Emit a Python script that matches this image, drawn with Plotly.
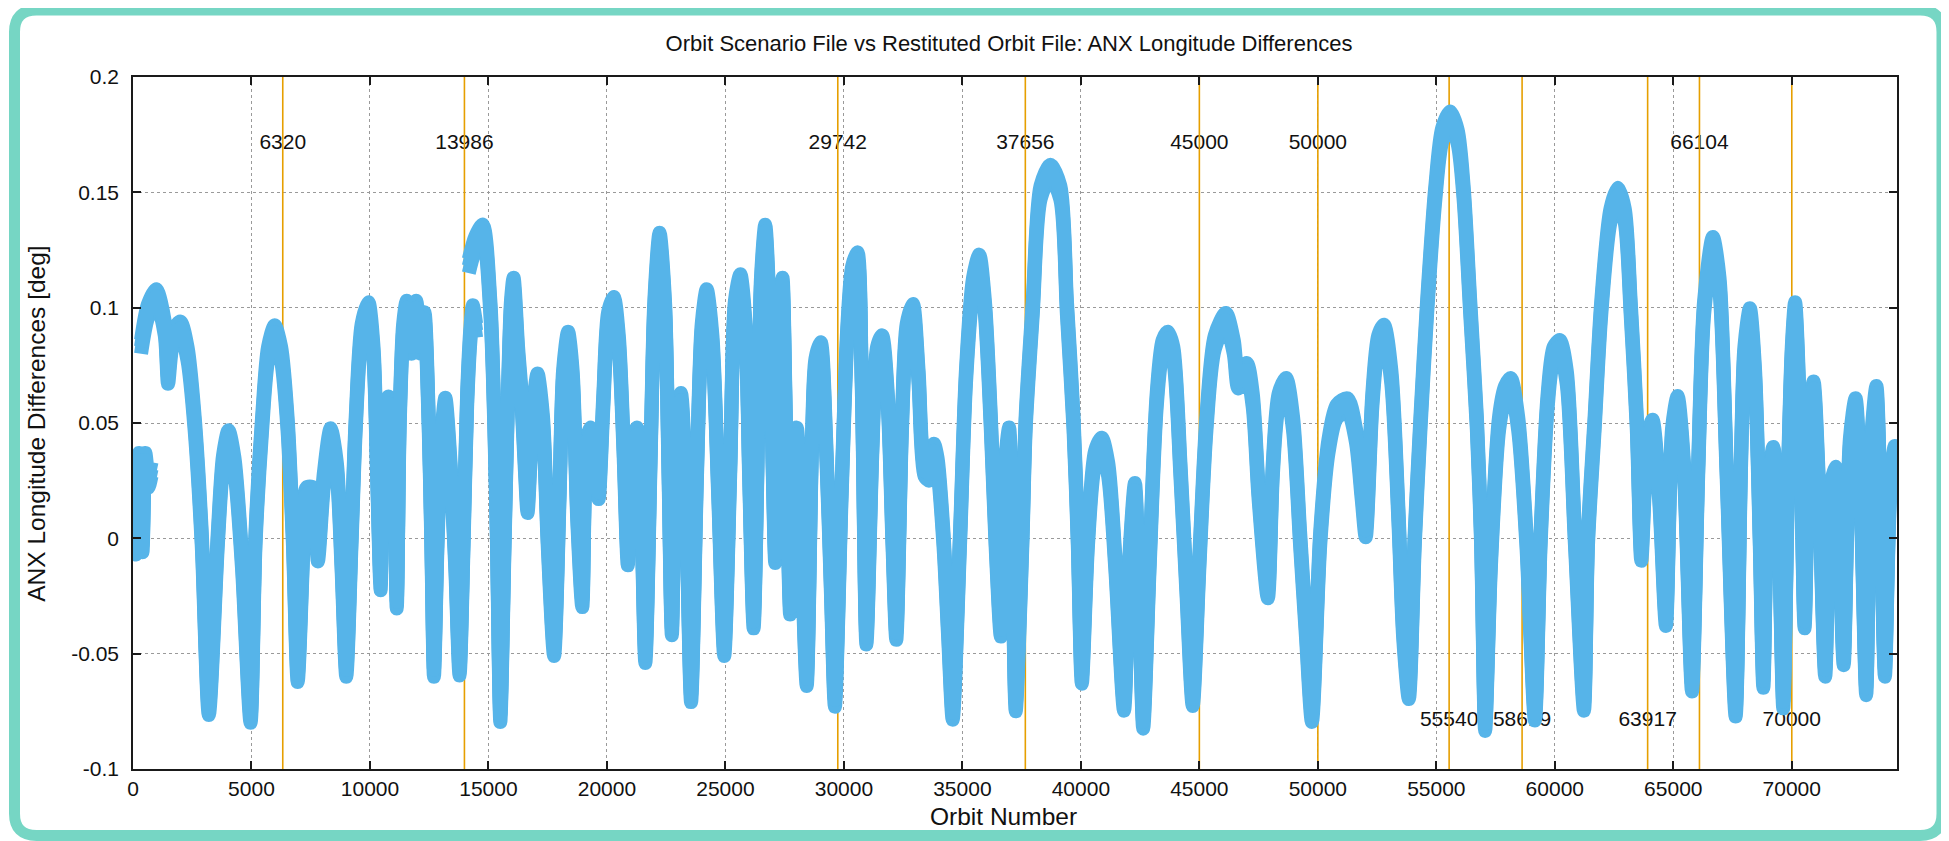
import plotly.graph_objects as go

# ---------------- data ----------------
ORBIT = [
    0, 130, 260, 400, 520, 650, 780, None,
    340, 630, 980, 1340, 1480, 1690, 2000, 2300, 2600, 2900, 3200, 3580, 3800, 4030, 4280, 4600, 4960,
    5170, 5450, 5700, 5980, 6250, 6520, 6750, 6950, 7200, 7320, 7600, 7800, 8050, 8340, 8600, 8800, 9000,
    9220, 9400, 9650, 9930, 10150, 10300, 10450, 10600, 10780, 10950, 11130, 11250, 11400, 11550, 11750,
    11950, 12150, 12300, 12480, 12590, 12700, 12850, 13000, 13180, 13400, 13600, 13780, 13950, 14100,
    14250, 14340, 14480, None,
    14170, 14450, 14760, 15080, 15250, 15360, 15500, 15680, 15820, 15950, 16060, 16250, 16400, 16550,
    16650, 16850, 17070, 17300, 17500, 17770, 18000, 18150, 18360, 18550, 18750, 18960, 19150, 19310,
    19500, 19650, 19850, 20050, 20290, 20500, 20700, 20880, 21050, 21270, 21400, 21620, 21850, 22000,
    22220, 22450, 22600, 22740, 22950, 23120, 23300, 23550, 23800, 24000, 24210, 24450, 24700, 24950,
    25200, 25400, 25630, 25850, 26000, 26190, 26400, 26500, 26680, 26850, 27000, 27100, 27250, 27410,
    27550, 27730, 27900, 28010, 28200, 28430, 28650, 28800, 29020, 29250, 29450, 29620, 29900, 30150,
    30350, 30570, 30750, 30950, 31200, 31400, 31610, 31850, 32050, 32210, 32450, 32650, 32910, 33150,
    33400, 33600, 33800, 33950, 34200, 34400, 34590, 34900, 35150, 35450, 35710, 35950, 36200, 36400,
    36620, 36800, 36970, 37100, 37250, 37530, 37670, 37970, 38300, 38715, 39130, 39410, 39690, 39870,
    40040, 40300, 40600, 40880, 41150, 41450, 41820, 42050, 42280, 42450, 42630, 42900, 43200, 43450,
    43670, 43900, 44200, 44450, 44720, 45000, 45300, 45650, 46120, 46450, 46650, 47000, 47250, 47500,
    47890, 48100, 48350, 48660, 48950, 49250, 49500, 49750, 50100, 50450, 50800, 51250, 51600, 51850,
    52020, 52300, 52550, 52790, 53100, 53400, 53600, 53840, 54090, 54330, 54610, 54960, 55250, 55590,
    55900, 56150, 56430, 56710, 56890, 57060, 57300, 57650, 57900, 58140, 58450, 58800, 59160, 59400,
    59700, 59950, 60210, 60500, 60850, 61230, 61400, 61680, 61960, 62350, 62660, 62950, 63200, 63460,
    63650, 63900, 64120, 64400, 64690, 64950, 65180, 65450, 65790, 66050, 66300, 66670, 66950, 67250,
    67630, 67850, 68000, 68230, 68450, 68650, 68800, 69000, 69220, 69450, 69640, 69850, 70000, 70140,
    70350, 70540, 70750, 70920, 71150, 71410, 71650, 71840, 72000, 72190, 72450, 72690, 72900, 73140,
    73350, 73570, 73750, 73930, 74150, 74350, 74500,
]

ANX_DIFF = [
    0.003, -0.004, 0.034, -0.003, 0.034, 0.025, 0.030, None,
    0.083, 0.0985, 0.105, 0.091, 0.070, 0.087, 0.091, 0.080, 0.050, 0.000, -0.0736, 0.000, 0.033, 0.0439,
    0.032, -0.010, -0.077,
    0.000, 0.050, 0.080, 0.0894, 0.080, 0.050, 0.000, -0.0593, 0.000, 0.019, 0.019, -0.007, 0.025, 0.0447,
    0.030, -0.010, -0.057,
    0.000, 0.050, 0.090, 0.0994, 0.080, 0.030, -0.0195, 0.050, 0.0585, 0.050, -0.0274, 0.050, 0.090, 0.100,
    0.083,
    0.100, 0.083, 0.095, 0.050, 0.000, -0.057, 0.000, 0.040, 0.058, 0.030, -0.010, -0.0565, 0.000, 0.060,
    0.090, 0.098, 0.090, None,
    0.118, 0.128, 0.133, 0.100, 0.050, 0.000, -0.0766, 0.000, 0.060, 0.100, 0.110, 0.080, 0.060, 0.030,
    0.014, 0.050, 0.0685, 0.050, 0.000, -0.048, 0.020, 0.070, 0.0866, 0.070, 0.010, -0.0268, 0.040, 0.045,
    0.040, 0.020, 0.060, 0.095, 0.1016, 0.085, 0.040, -0.0087, 0.040, 0.045, 0.030, -0.051, 0.040, 0.100,
    0.1295, 0.100, 0.030, -0.039, 0.050, 0.060, 0.030, -0.068, 0.030, 0.090, 0.105, 0.085, 0.020, -0.048,
    0.030, 0.100, 0.1115, 0.090, 0.030, -0.036, 0.060, 0.110, 0.133, 0.100, 0.030, -0.0077, 0.080, 0.110,
    0.050, -0.030, 0.040, 0.045, 0.000, -0.061, 0.040, 0.075, 0.082, 0.040, -0.020, -0.070, 0.020, 0.090,
    0.115, 0.121, 0.070, -0.043, 0.040, 0.080, 0.085, 0.060, 0.000, -0.041, 0.050, 0.090, 0.0986, 0.070,
    0.030, 0.028, 0.038, 0.032, 0.000, -0.040, -0.0756, 0.000, 0.070, 0.110, 0.120, 0.100, 0.050, 0.000,
    -0.0396, 0.030, 0.045, 0.000, -0.072, 0.000, 0.050, 0.100, 0.150, 0.159, 0.150, 0.100, 0.050, 0.000,
    -0.060, 0.000, 0.035, 0.0406, 0.030, -0.010, -0.0717, -0.010, 0.021, -0.020, -0.0795, -0.010, 0.060, 0.083,
    0.0866, 0.080, 0.030, -0.020, -0.0697, -0.010, 0.050, 0.085, 0.0947, 0.083, 0.068, 0.073, 0.060, 0.020,
    -0.023, 0.030, 0.060, 0.0665, 0.050, 0.000, -0.040, -0.0766, 0.000, 0.040, 0.055, 0.0577, 0.045, 0.020,
    0.0035, 0.060, 0.085, 0.0896, 0.070, 0.010, -0.040, -0.0667, 0.000, 0.050, 0.100, 0.150, 0.175, 0.182,
    0.174, 0.150, 0.100, 0.050, 0.000, -0.0805, -0.010, 0.050, 0.063, 0.0665, 0.050, 0.000, -0.076, 0.000,
    0.060, 0.080, 0.083, 0.070, 0.000, -0.0717, 0.000, 0.050, 0.100, 0.140, 0.149, 0.140, 0.100, 0.050,
    -0.0067, 0.040, 0.0484, 0.020, -0.035, 0.045, 0.0587, 0.030, -0.0634, 0.030, 0.100, 0.1276, 0.110, 0.030,
    -0.0742, 0.030, 0.080, 0.0967, 0.070, 0.000, -0.0618, 0.020, 0.0366, 0.000, -0.0707, 0.030, 0.080, 0.0994,
    0.050, -0.036, 0.050, 0.065, 0.020, -0.057, 0.020, 0.028, 0.000, -0.052, 0.040, 0.0577, 0.020, -0.065,
    0.040, 0.063, 0.010, -0.057, 0.020, 0.037, 0.030,
]

# half thickness of the orbit-to-orbit scatter around the curve (deg)
BAND_HALF = 0.003

EVENT_ORBITS = [6320, 13986, 29742, 37656, 45000, 50000, 55540, 58619, 63917, 66104, 70000]
EVENT_LABELS = ["6320", "13986", "29742", "37656", "45000", "50000",
                "55540", "58619", "63917", "66104", "70000"]
EVENT_LABEL_Y = [0.171, 0.171, 0.171, 0.171, 0.171, 0.171,
                 -0.079, -0.079, -0.079, 0.171, -0.079]

X_TICKS = [0, 5000, 10000, 15000, 20000, 25000, 30000, 35000, 40000, 45000, 50000, 55000, 60000, 65000, 70000]
Y_TICKS = [-0.1, -0.05, 0, 0.05, 0.1, 0.15, 0.2]
Y_TICK_TEXT = ["-0.1", "-0.05", "0", "0.05", "0.1", "0.15", "0.2"]

TITLE = "Orbit Scenario File vs Restituted Orbit File: ANX Longitude Differences"
X_TITLE = "Orbit Number"
Y_TITLE = "ANX Longitude Differences [deg]"

# ---------------- style ----------------
W, H = 1949, 841
OFF = 8                      # page margin of the html body
ML, MR, MT, MB = 125, 60, 69, 79.5
PW, PH = W - ML - MR, H - MT - MB
FONT = "Liberation Sans, Arial, sans-serif"
BLUE = "#56B4E9"
ORANGE = "#E69F00"
TEAL = "#76D6C4"
TXT = "#111111"


def px_x(px):
    """page x pixel -> paper coordinate"""
    return (px - OFF - ML) / PW


def px_y(py):
    """page y pixel -> paper coordinate"""
    return (H - MB - (py - OFF)) / PH


fig = go.Figure()

# event labels (drawn underneath everything else, as in the reference)
fig.add_trace(go.Scatter(
    x=EVENT_ORBITS, y=EVENT_LABEL_Y, mode="text", text=EVENT_LABELS,
    textposition="middle center", textfont=dict(family=FONT, size=21, color=TXT),
    hoverinfo="skip", showlegend=False))

# event vertical lines
vx, vy = [], []
for o in EVENT_ORBITS:
    vx += [o, o, None]
    vy += [Y_TICKS[0], Y_TICKS[-1], None]
fig.add_trace(go.Scatter(x=vx, y=vy, mode="lines", line=dict(color=ORANGE, width=1.6),
                         hoverinfo="skip", showlegend=False))

# band of ANX differences
upper = [v + BAND_HALF if v is not None else None for v in ANX_DIFF]
lower = [v - BAND_HALF if v is not None else None for v in ANX_DIFF]
for ys in (lower, upper, ANX_DIFF):
    fig.add_trace(go.Scatter(x=ORBIT, y=ys, mode="lines",
                             line=dict(color=BLUE, width=14, shape="spline", smoothing=0.8),
                             connectgaps=False, hoverinfo="skip", showlegend=False))

axis_common = dict(
    showline=True, linecolor="#1a1a1a", linewidth=1.5, mirror="ticks",
    ticks="inside", ticklen=8, tickwidth=1.5, tickcolor="#1a1a1a",
    showgrid=True, gridcolor="#9a9a9a", gridwidth=1, griddash="dot",
    zeroline=False, tickfont=dict(family=FONT, size=21, color=TXT),
)

fig.update_xaxes(range=[0, 74440], tickvals=X_TICKS, ticktext=[str(t) for t in X_TICKS],
                 ticklabelstandoff=0, **axis_common)
fig.update_yaxes(range=[Y_TICKS[0], Y_TICKS[-1]], tickvals=Y_TICKS, ticktext=Y_TICK_TEXT,
                 ticklabelstandoff=8, **axis_common)

# rounded teal frame around the whole picture (page pixel positions)
x0, x1, y0, y1, r = 14.5, 1942, 10, 836, 22
path = (
    f"M {px_x(x0 + r)},{px_y(y0)} L {px_x(x1 - r)},{px_y(y0)} "
    f"Q {px_x(x1)},{px_y(y0)} {px_x(x1)},{px_y(y0 + r)} "
    f"L {px_x(x1)},{px_y(y1 - r)} Q {px_x(x1)},{px_y(y1)} {px_x(x1 - r)},{px_y(y1)} "
    f"L {px_x(x0 + r)},{px_y(y1)} Q {px_x(x0)},{px_y(y1)} {px_x(x0)},{px_y(y1 - r)} "
    f"L {px_x(x0)},{px_y(y0 + r)} Q {px_x(x0)},{px_y(y0)} {px_x(x0 + r)},{px_y(y0)} Z"
)
fig.add_shape(type="path", path=path, xref="paper", yref="paper",
              line=dict(color=TEAL, width=11), fillcolor="rgba(0,0,0,0)", layer="above")

fig.add_annotation(text=X_TITLE, x=px_x(1003), y=px_y(817), xref="paper", yref="paper",
                   showarrow=False, xanchor="center", yanchor="middle",
                   font=dict(family=FONT, size=24.5, color=TXT))
fig.add_annotation(text=Y_TITLE, x=px_x(37), y=px_y(424), xref="paper", yref="paper",
                   showarrow=False, textangle=-90, xanchor="center", yanchor="middle",
                   font=dict(family=FONT, size=24.5, color=TXT))

fig.update_layout(
    width=W, height=H, autosize=False,
    margin=dict(l=ML, r=MR, t=MT, b=MB, autoexpand=False),
    paper_bgcolor="white", plot_bgcolor="white",
    title=dict(text=TITLE, x=px_x(1009), xref="paper", xanchor="center",
               y=1 - (43.5 - OFF) / H, yref="container", yanchor="middle",
               font=dict(family=FONT, size=22, color=TXT)),
    showlegend=False,
)

fig.write_html("out.html")
